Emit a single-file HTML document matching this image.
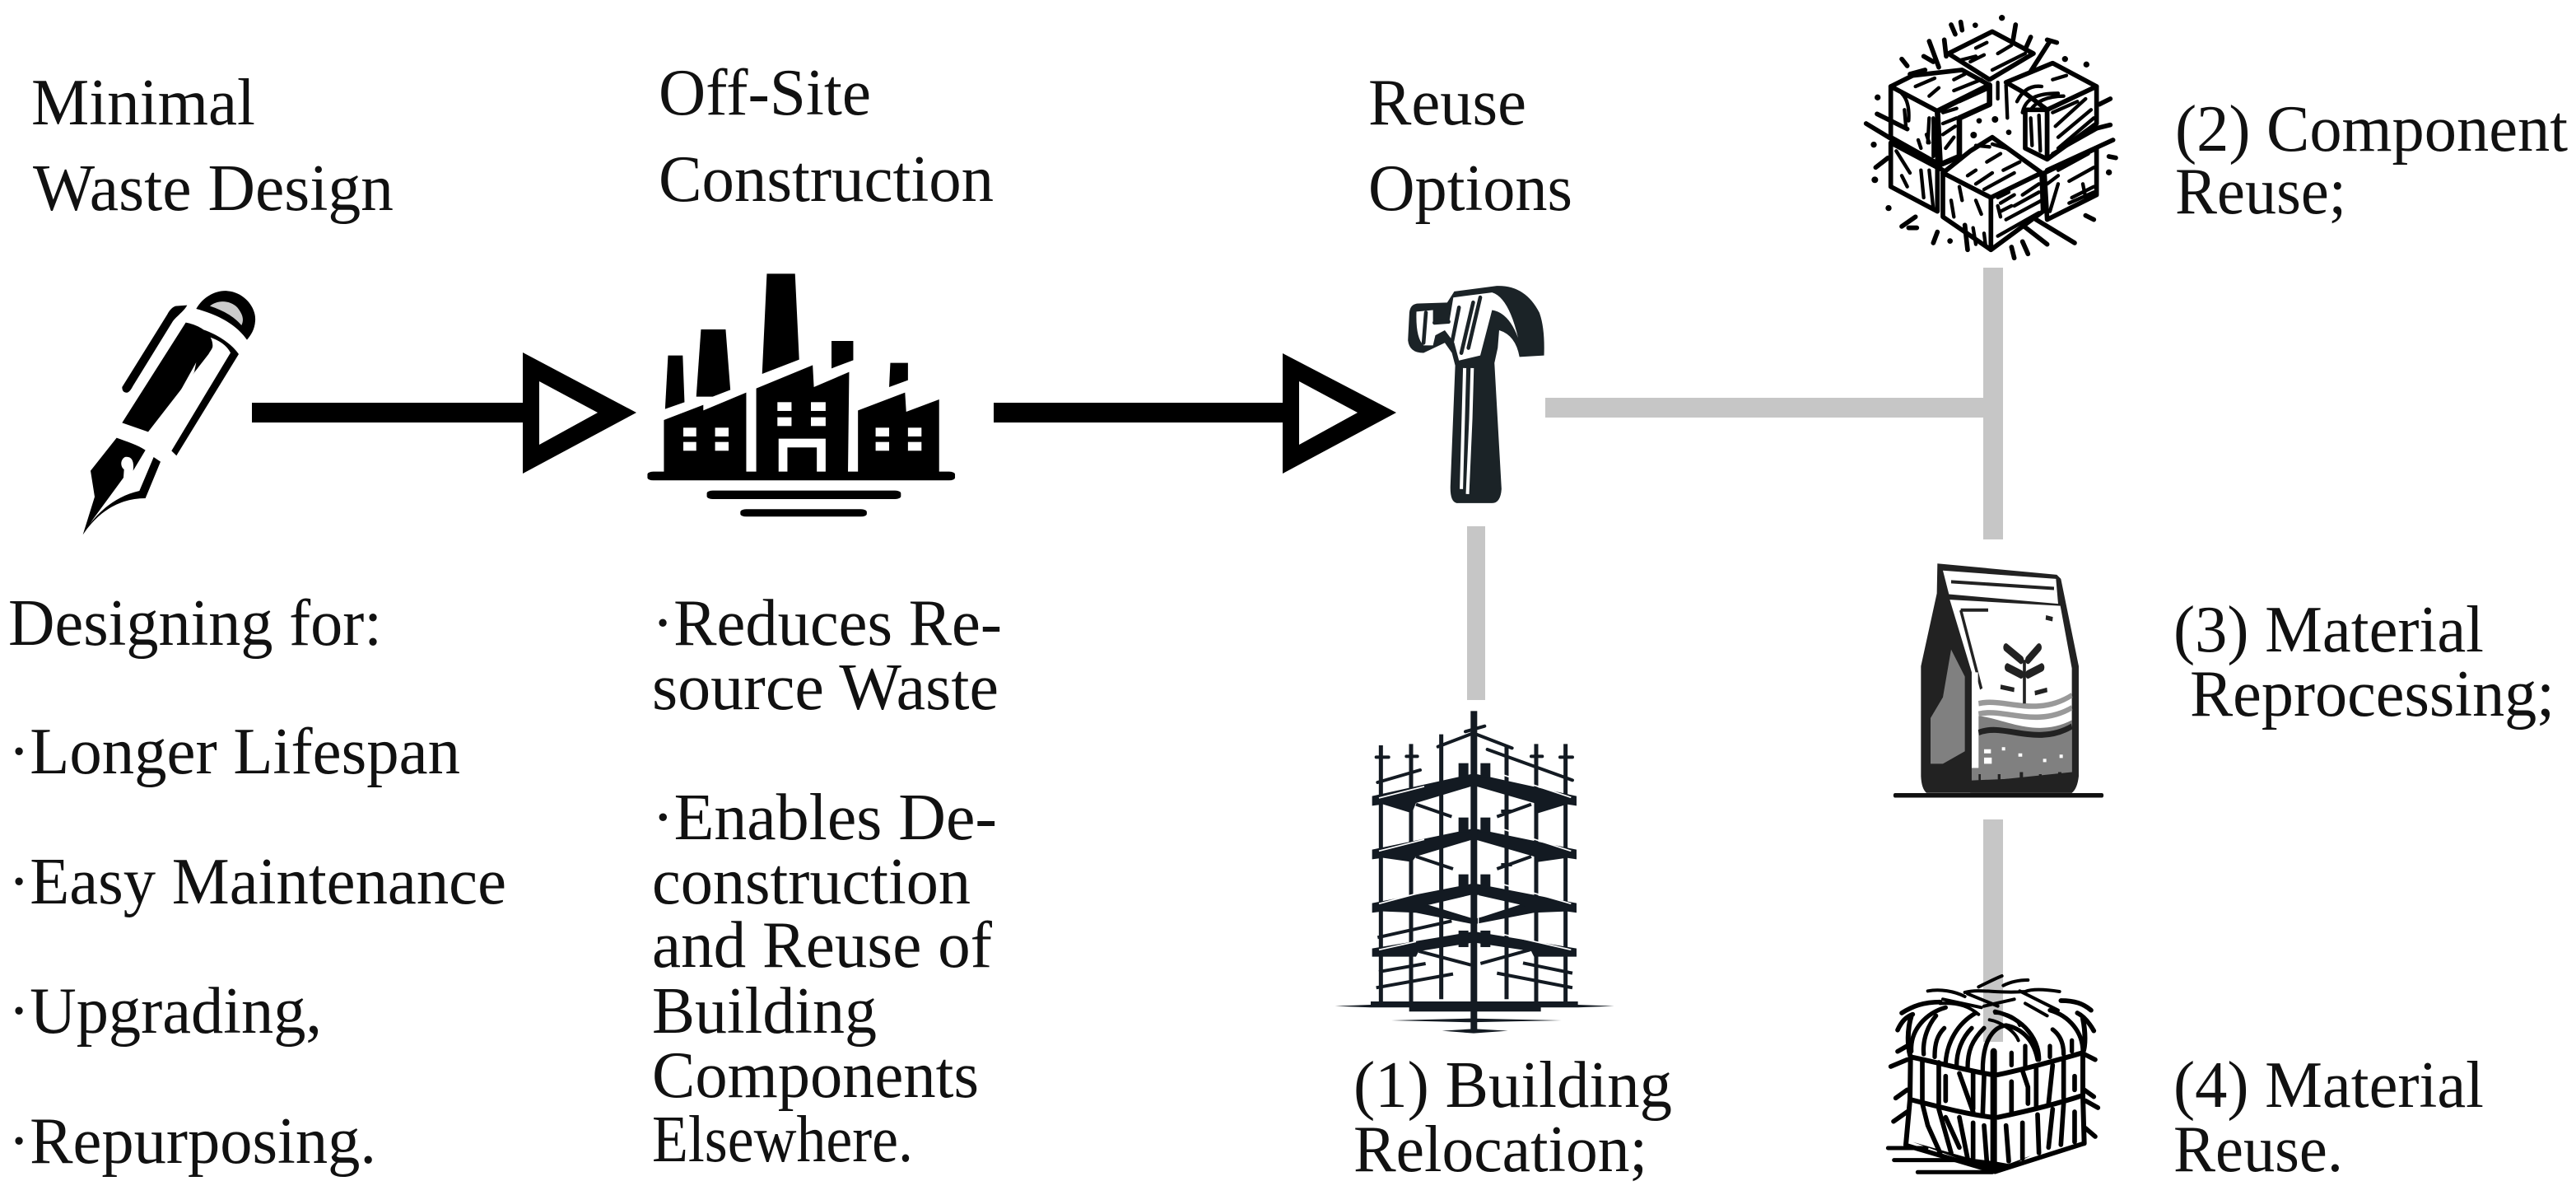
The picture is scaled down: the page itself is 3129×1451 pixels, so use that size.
<!DOCTYPE html>
<html><head><meta charset="utf-8"><style>
html,body{margin:0;padding:0;background:#fff}
svg{display:block}
text{font-family:"Liberation Serif",serif;font-size:80px;fill:#111}
</style></head><body>
<svg xmlns="http://www.w3.org/2000/svg" width="3129" height="1451" viewBox="0 0 3129 1451">
<rect width="3129" height="1451" fill="#fff"/>
<!-- grey connectors -->
<g fill="#c6c6c6">
<rect x="1782" y="639" width="22" height="211"/>
<rect x="1877" y="483" width="532" height="24"/>
<rect x="2409" y="325" width="24" height="330"/>
<rect x="2409" y="995" width="24" height="270"/>
</g>
<!-- arrows -->
<g fill="#000" fill-rule="evenodd">
<rect x="306" y="489" width="330" height="24"/>
<path d="M635 428L773 501L635 575ZM655 463V540L726 501Z"/>
<rect x="1207" y="489" width="352" height="24"/>
<path d="M1558 429L1696 501L1558 575ZM1578 463V540L1649 501Z"/>
</g>
<!-- pen -->
<g transform="translate(80,340) scale(.3333)">
<path d="M475 105C500 60 550 35 590 40C650 45 695 100 690 150C688 180 675 200 660 218C620 160 550 125 475 105Z"/>
<path d="M525 95C555 70 600 75 625 100C645 125 650 145 640 165C610 130 570 110 525 95Z" fill="#ccc"/>
<path d="M442 92L400 95C385 100 375 115 370 125L205 390Q205 412 225 410Q235 405 245 385L390 150C405 130 430 115 442 92Z"/>
<path d="M437 155C490 165 535 195 535 240C535 250 525 260 520 270L300 553L205 520Z"/>
<path d="M470 172C530 185 600 225 630 270L403 640L385 622L600 265C580 225 530 205 470 195Z"/>
<path d="M475 300L375 480L385 485L468 335Z" fill="#fff"/>
<path d="M185 575C225 590 260 600 290 620L245 695C250 660 240 640 215 645C198 655 198 680 212 690L210 720L100 870L62 928L105 790L90 695Z"/>
<path d="M320 645L345 662L290 795C200 795 120 840 62 928C100 860 170 790 268 768Z"/>
</g>
<!-- factory -->
<g transform="translate(60,300) scale(.7143,.3333)">
<path d="M1052 395L1077 395L1080 565L1047 590Z"/>
<path d="M1108 300L1150 300L1158 520L1128 545L1100 545Z"/>
<path d="M1220 97L1268 97L1275 410L1212 462Z"/>
<path d="M1330 342L1367 342L1367 412L1330 442Z"/>
<path d="M1430 422L1460 422L1460 485L1428 510Z"/>
<path d="M1045 630L1112 575L1112 595L1185 530L1185 820L1045 820Z"/>
<path d="M1202 515L1298 430L1300 510L1360 455L1358 820L1202 820Z"/>
<path d="M1375 595L1455 530L1457 600L1513 555L1513 820L1375 820Z"/>
<g fill="#fff">
<rect x="1078" y="658" width="22" height="32"/><rect x="1132" y="658" width="23" height="32"/>
<rect x="1078" y="710" width="22" height="32"/><rect x="1132" y="710" width="23" height="32"/>
<rect x="1238" y="565" width="24" height="32"/><rect x="1295" y="565" width="25" height="32"/>
<rect x="1238" y="620" width="24" height="32"/><rect x="1295" y="620" width="25" height="32"/>
<rect x="1405" y="658" width="23" height="32"/><rect x="1460" y="658" width="23" height="32"/>
<rect x="1405" y="710" width="23" height="32"/><rect x="1460" y="710" width="23" height="32"/>
<rect x="1240" y="698" width="80" height="122"/>
</g>
<rect x="1255" y="730" width="50" height="90"/>
<rect x="1017" y="818" width="523" height="32" rx="10"/>
<rect x="1118" y="887" width="330" height="31" rx="10"/>
<rect x="1175" y="955" width="215" height="27" rx="10"/>
</g>
<!-- hammer -->
<g transform="translate(1600,300) scale(.574,.612)">
<path fill="#1b2327" d="M195 130Q197 112 215 112L275 110L290 88L380 77Q440 75 470 130Q482 160 480 215L428 218Q420 175 385 165L382 200L375 230L390 480Q388 508 370 508L295 508Q280 505 282 470L292 235L285 210L270 190L225 210Q195 210 192 185Z"/>
<path fill="#fff" d="M210 128L245 125L245 150L280 145L288 100L370 90Q405 100 425 180Q405 130 370 125L345 215L300 225L290 190L270 165L250 175L245 195L225 195Q208 180 210 128Z"/>
<g fill="none" stroke="#1b2327" stroke-linecap="round">
<path d="M230 130L225 190M248 150L278 148M300 120L285 190M330 110L305 210M345 100L320 200" stroke-width="8"/>
</g>
<path fill="none" stroke="#fff" stroke-width="7" d="M312 240L305 480M328 240L325 340L318 490"/>
</g>
<!-- scaffold -->
<g transform="translate(1620,860) scale(.3333)" fill="none" stroke="#131a22">
<path stroke-width="15" d="M172 135V1070M282 130V1070M392 95V1060M630 140V1060M738 130V1070M845 130V1070"/>
<path stroke-width="12" stroke-linecap="round" d="M160 270L315 225M380 140L510 90M480 85L550 65M520 95L650 145M560 150L870 262M155 178H200M265 175H305M720 175H760M825 178H870"/>
<path stroke-width="12" d="M300 350L430 395M595 395L720 350M300 540L435 585M595 585L720 540M160 835L430 775M165 960L335 930M155 1018L435 968M595 965L870 1018M690 928L870 965M320 715L500 770M700 715L530 770M310 885L500 935M535 930L715 880M610 375H650M610 570H650"/>
<g fill="#131a22" stroke="none">
<path d="M140 320L500 240V285L300 345L285 382L180 350L140 355Z"/>
<path d="M885 320L522 240V285L730 345L745 382L850 350L885 355Z"/>
<path d="M140 515L500 440V480L300 540L285 560L180 545L140 550Z"/>
<path d="M885 515L522 440V480L730 540L745 560L850 545L885 550Z"/>
<path d="M140 710L500 640V680L330 720L500 765V785L300 745L180 740L140 745Z"/>
<path d="M885 710L522 640V680L700 720L522 765V785L730 745L850 740L885 745Z"/>
<path d="M140 875L500 815V855L310 885L300 905L180 905L140 905Z"/>
<path d="M885 875L522 815V855L720 885L730 905L850 905L885 905Z"/>
<rect x="455" y="200" width="36" height="55"/><rect x="535" y="200" width="36" height="55"/>
<rect x="455" y="398" width="36" height="55"/><rect x="535" y="398" width="36" height="55"/>
<rect x="455" y="605" width="36" height="50"/><rect x="535" y="605" width="36" height="50"/>
<rect x="455" y="810" width="36" height="60"/><rect x="535" y="810" width="36" height="60"/>
<path d="M5 1085L135 1080V1068L890 1068V1080L1022 1085L890 1090L755 1090V1105H275V1090L135 1090Z"/>
<path d="M210 1137L500 1130L830 1137L500 1144Z"/>
<path d="M395 1175L510 1168L635 1175L510 1184Z"/>
<rect x="499" y="10" width="24" height="1160"/>
</g>
<path stroke="#fff" stroke-width="5" d="M165 327L330 285M585 232L865 325M165 520L330 478M585 430L865 520M165 712L330 668M585 632L865 712M165 880L300 850M610 822L865 880"/>
<path stroke="#fff" stroke-width="4" d="M527 290V440M527 485V640M527 680V810M527 870V1050"/>
</g>
<!-- blocks -->
<g transform="translate(2260,10) scale(.3333)" fill="#fff" stroke="#000" stroke-width="17" stroke-linejoin="round" stroke-linecap="round">
<path d="M320 165L480 85L630 165L470 260Z"/>
<path d="M110 285L190 245L370 225L470 280L280 375Z"/>
<path d="M110 285L280 375V565L110 470Z"/>
<path d="M280 375L470 280V350L360 400V540L290 570Z" stroke-width="20"/>
<path d="M530 270L700 200L860 285L680 370L600 310Z"/>
<path d="M600 370L680 370V550L600 510Z"/>
<path d="M680 370L860 285V420L680 550Z"/>
<path d="M110 490L280 580V740L110 650Z"/>
<path d="M670 600L860 510V680L680 770Z"/>
<path d="M300 600L400 520L480 470L660 600L475 690Z"/>
<path d="M300 600L475 690V880L300 760Z"/>
<path d="M475 690L660 600L665 740L475 880Z"/>
<g fill="none">
<path d="M20 420L300 590M60 385L170 440M680 590L920 480M870 350L910 330M850 440L910 425M590 790L680 860M640 770L780 855M550 870L560 910M590 850L610 895"/>
<path d="M305 115L312 175M250 120L285 215M230 175L265 195M150 185L170 210M180 240L235 225M565 60L555 120M620 105L600 150M690 120L620 230M680 115L715 125M330 60L345 95M365 50L370 80M55 580L100 545M150 795L200 760M175 800L205 800M280 815L265 855M820 755L850 770M905 540L930 545M380 790L390 880"/>
</g>
<g fill="none" stroke-width="13">
<path d="M420 145L460 125M500 165L550 135M400 195L450 170M480 225L600 165M360 190L420 175M200 285L270 255M250 320L285 290M340 260L380 240M340 300L440 260M360 340L470 290M300 380L350 365M300 420L350 400M300 460L345 430M310 510L340 470"/>
<path d="M150 310Q180 340 175 410M160 370L165 430M210 480L220 510M250 400L245 490M265 400L265 540M240 460L250 490"/>
<path d="M500 270V330M530 280L535 400M570 340C590 300 620 280 660 285M590 380C600 330 640 310 720 310M620 370C640 340 680 320 740 320M700 260L750 245"/>
<path d="M620 400L625 500M650 390L655 520M700 380L790 340M710 430L820 330M720 470L840 370M720 510L850 400M700 530L860 440"/>
<path d="M130 520L180 600M150 610L170 650M220 590L230 690M250 590L265 730M680 640L720 610M690 740L720 640M720 590L830 530M760 630L850 580M770 690L850 650M760 710L850 670M810 640L820 690"/>
<path d="M390 610L420 590M460 560L510 530M420 640L480 600M450 660L560 600M520 590L580 560M500 690L540 670M360 650L370 700M330 700L340 760M420 700L440 750M410 800L420 860M450 820L455 860M500 720L510 760M590 680L650 640M560 720L650 670M530 770L660 700M500 830L650 745M510 710L560 680M510 740L550 720"/>
<path d="M420 500L470 505M480 495L530 510"/>
</g>
<g fill="#000" stroke="none">
<circle cx="515" cy="35" r="11"/><circle cx="418" cy="62" r="10"/><circle cx="745" cy="185" r="11"/><circle cx="823" cy="205" r="11"/><circle cx="62" cy="325" r="11"/><circle cx="48" cy="497" r="11"/><circle cx="52" cy="625" r="12"/><circle cx="102" cy="728" r="11"/><circle cx="326" cy="848" r="10"/><circle cx="905" cy="598" r="11"/><circle cx="432" cy="410" r="10"/><circle cx="490" cy="405" r="12"/><circle cx="412" cy="462" r="12"/><circle cx="540" cy="452" r="10"/>
</g>
</g>
<!-- bag -->
<g transform="translate(2260,660) scale(.3333,.5045)">
<path fill="#222" d="M280 48L715 75L730 85L795 295L795 560Q790 590 770 600L240 600Q222 590 220 560L220 295L278 120Z"/>
<path fill="#fff" d="M300 65L712 85L720 145L322 122Z"/>
<path fill="#fff" d="M325 135L728 150L770 300V550H405V310Z"/>
<path fill="#808080" d="M330 255L380 320V500L300 530L255 530V420L300 370Z"/>
<path fill="#808080" d="M430 415C520 420 640 470 770 425V550L405 575V540H430Z"/>
<g fill="none" stroke="#222">
<path stroke-width="8" d="M330 92L705 108M365 160H465"/>
<path stroke-width="10" d="M365 160L440 350"/>
<path stroke-width="13" d="M430 385C520 370 640 420 770 365" stroke="#999"/>
<path stroke-width="13" d="M430 410C520 395 640 445 770 395" stroke="#999"/>
<path stroke-width="14" d="M430 455C520 430 640 490 770 440"/>
<path stroke-width="11" d="M597 280V385M510 345L560 352M635 360L680 352M675 178L700 182"/>
<path stroke-width="20" stroke-linecap="round" d="M530 250L585 280M650 250L610 280M535 298L585 315M660 298L610 315"/>
</g>
<path fill="#fff" d="M405 310H428V540H405ZM450 495H475V505H450ZM450 515H478V530H450ZM515 490h12v8h-12ZM575 505h14v8h-14ZM665 518h12v8h-12ZM725 508h12v8h-12Z"/>
<path fill="#222" d="M405 570L770 560V600H400ZM430 555h8v15h-8ZM500 555h10v15h-10ZM580 550h12v15h-12ZM650 555h10v15h-10ZM720 550h12v15h-12Z"/>
<path fill="none" stroke="#111" stroke-width="11" stroke-linecap="round" d="M125 606H880"/>
</g>
<!-- hay -->
<g transform="translate(2280,1180) scale(.3333)" fill="none" stroke="#000" stroke-linecap="round" stroke-linejoin="round">
<path stroke-width="12" d="M185 70C230 62 280 70 320 90M370 55C400 40 430 25 455 15M460 50C490 35 520 30 550 30M320 75C380 60 430 80 540 72C570 60 620 65 665 72M330 80L440 125M240 100L380 130M520 70L660 140M230 115C300 110 340 130 370 155M500 100L390 125M540 115L620 160M430 150C480 150 510 170 520 195M410 175C440 180 500 210 515 250"/>
<path stroke-width="17" d="M90 150C130 125 170 110 230 110M75 212C90 180 105 165 130 155M75 290L110 270M50 345L110 320M68 460L110 430M60 545L110 510M790 215C770 180 750 160 730 150M780 140C750 115 720 105 670 105M795 320L755 300M790 455L755 430M805 495L760 470M795 600L760 570"/>
<path stroke-width="18" d="M125 160C110 210 110 270 122 310L120 465L105 630M750 170C760 220 760 270 750 295L750 450L755 625"/>
<path stroke-width="18" d="M122 310C220 330 330 360 420 375M440 375C560 350 660 320 750 295M120 465C220 490 330 520 420 530M440 530C560 505 660 480 750 450"/>
<path stroke-width="16" d="M125 290C120 210 180 150 250 130M170 300C165 240 190 190 215 160M210 310C210 260 220 230 245 205M250 330C255 260 290 190 360 150M290 340C290 290 310 240 345 205M330 350C330 290 345 250 390 205M385 360C385 240 430 200 470 195C520 205 570 240 585 320M430 145C540 170 590 250 590 320M680 300C680 250 660 225 640 210M750 290C750 220 700 160 630 140M630 310V270M710 290V250M490 340V295M540 345V270"/>
<path stroke-width="24" d="M425 290V720"/>
<path stroke-width="17" d="M165 320V470M225 330V480M250 380V470M300 370L350 510M350 370V500M390 380L385 520M490 400V510M530 360L550 420V480M580 350V490M640 340L625 480M680 320V460M720 380V430"/>
<path stroke-width="17" d="M165 480L185 560L230 660M225 500L270 660M250 530L300 640M300 530L330 680M350 550V680M390 560L400 690M470 560L480 690M530 550L530 680M585 520L590 660M640 500L625 640M680 480L670 630M720 510L720 620"/>
<path stroke-width="17" d="M105 632L430 728L755 625"/>
<path fill="#000" stroke="none" d="M130 620L340 680L425 690L480 700L560 670L430 735L350 700Z"/>
<path stroke-width="15" d="M40 642H180M62 686H340M148 730H420"/>
</g>
<!-- text -->
<g>
<text x="38" y="151" textLength="272" lengthAdjust="spacingAndGlyphs">Minimal</text>
<text x="40" y="255" textLength="438" lengthAdjust="spacingAndGlyphs">Waste Design</text>
<text x="800" y="139" textLength="258" lengthAdjust="spacingAndGlyphs">Off-Site</text>
<text x="800" y="244" textLength="407" lengthAdjust="spacingAndGlyphs">Construction</text>
<text x="1662" y="151" textLength="192" lengthAdjust="spacingAndGlyphs">Reuse</text>
<text x="1662" y="255" textLength="248" lengthAdjust="spacingAndGlyphs">Options</text>
<text x="2642" y="183" textLength="477" lengthAdjust="spacingAndGlyphs">(2) Component</text>
<text x="2642" y="259" textLength="208" lengthAdjust="spacingAndGlyphs">Reuse;</text>
<text x="10" y="783" textLength="454" lengthAdjust="spacingAndGlyphs">Designing for:</text>
<text x="10" y="939" textLength="549" lengthAdjust="spacingAndGlyphs">·Longer Lifespan</text>
<text x="10" y="1097" textLength="605" lengthAdjust="spacingAndGlyphs">·Easy Maintenance</text>
<text x="10" y="1254" textLength="381" lengthAdjust="spacingAndGlyphs">·Upgrading,</text>
<text x="10" y="1412" textLength="447" lengthAdjust="spacingAndGlyphs">·Repurposing.</text>
<text x="792" y="783" textLength="425" lengthAdjust="spacingAndGlyphs">·Reduces Re-</text>
<text x="792" y="861" textLength="421" lengthAdjust="spacingAndGlyphs">source Waste</text>
<text x="792" y="1019" textLength="419" lengthAdjust="spacingAndGlyphs">·Enables De-</text>
<text x="792" y="1097" textLength="387" lengthAdjust="spacingAndGlyphs">construction</text>
<text x="792" y="1174" textLength="413" lengthAdjust="spacingAndGlyphs">and Reuse of</text>
<text x="792" y="1254" textLength="273" lengthAdjust="spacingAndGlyphs">Building</text>
<text x="792" y="1332" textLength="397" lengthAdjust="spacingAndGlyphs">Components</text>
<text x="792" y="1410" textLength="317" lengthAdjust="spacingAndGlyphs">Elsewhere.</text>
<text x="1644" y="1344" textLength="387" lengthAdjust="spacingAndGlyphs">(1) Building</text>
<text x="1644" y="1422" textLength="357" lengthAdjust="spacingAndGlyphs">Relocation;</text>
<text x="2640" y="791" textLength="377" lengthAdjust="spacingAndGlyphs">(3) Material</text>
<text x="2660" y="869" textLength="443" lengthAdjust="spacingAndGlyphs">Reprocessing;</text>
<text x="2640" y="1344" textLength="377" lengthAdjust="spacingAndGlyphs">(4) Material</text>
<text x="2640" y="1422" textLength="206" lengthAdjust="spacingAndGlyphs">Reuse.</text>
</g>
</svg>
</body></html>
